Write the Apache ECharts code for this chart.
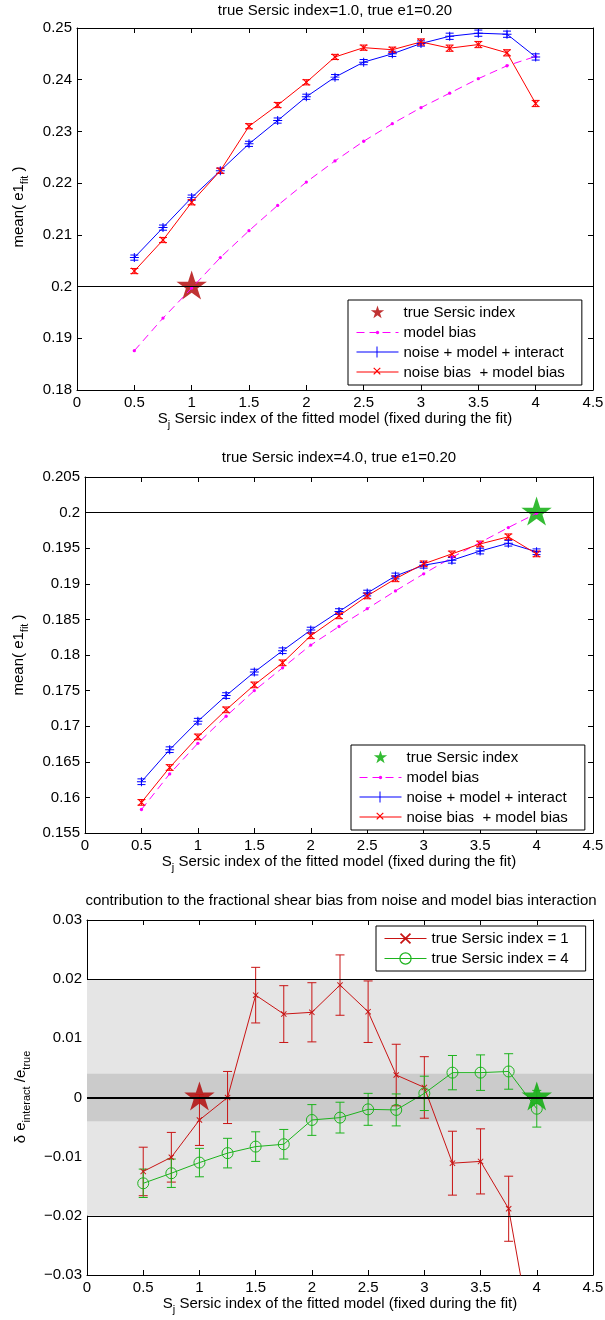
<!DOCTYPE html>
<html><head><meta charset="utf-8">
<script src="https://cdn.jsdelivr.net/npm/echarts@6/dist/echarts.min.js"></script>
<style>html,body{margin:0;padding:0;background:#fff}#c{width:605px;height:1320px}</style>
</head><body><div id="c"></div>
<script>
// ---------- data ----------
var sersicX = [0.5, 0.75, 1, 1.25, 1.5, 1.75, 2, 2.25, 2.5, 2.75, 3, 3.25, 3.5, 3.75, 4];

// panel 1 : true Sersic index 1.0
var p1Title = 'true Sersic index=1.0, true e1=0.20';
var p1Model = [0.1876, 0.1939, 0.1997, 0.2056, 0.2108, 0.2157, 0.2202, 0.2243, 0.2281, 0.2315, 0.2346, 0.2374, 0.2402, 0.2427, 0.2445];
var p1Blue  = [0.2056, 0.2114, 0.2172, 0.2224, 0.2276, 0.2321, 0.2367, 0.2405, 0.2434, 0.2450, 0.2470, 0.2484, 0.2490, 0.2488, 0.2444];
var p1BlueErr = [0.0005, 0.0005, 0.0005, 0.0005, 0.0005, 0.0005, 0.0005, 0.0005, 0.0005, 0.0005, 0.0005, 0.0006, 0.0006, 0.0006, 0.0006];
var p1Red   = [0.2030, 0.2090, 0.2163, 0.2224, 0.2310, 0.2351, 0.2395, 0.2444, 0.2462, 0.2458, 0.2473, 0.2461, 0.2468, 0.2452, 0.2354];
var p1RedErr = [0.0005, 0.0005, 0.0005, 0.0005, 0.0005, 0.0005, 0.0005, 0.0005, 0.0005, 0.0005, 0.0006, 0.0006, 0.0006, 0.0006, 0.0006];
var p1Star = [[1, 0.2]];
var trueE1 = 0.2;

// panel 2 : true Sersic index 4.0
var p2Title = 'true Sersic index=4.0, true e1=0.20';
var p2Model = [0.1583, 0.1633, 0.1676, 0.1714, 0.1750, 0.1782, 0.1814, 0.1840, 0.1865, 0.1890, 0.1914, 0.1937, 0.1958, 0.1979, 0.1999];
var p2Blue  = [0.1622, 0.1667, 0.1707, 0.1743, 0.1776, 0.1806, 0.1835, 0.1861, 0.1887, 0.1911, 0.1926, 0.1933, 0.1946, 0.1957, 0.1945];
var p2BlueErr = [0.0004, 0.0004, 0.0004, 0.0004, 0.0004, 0.0004, 0.0004, 0.0004, 0.0004, 0.0004, 0.0004, 0.0004, 0.0004, 0.0004, 0.0004];
var p2Red   = [0.1593, 0.1642, 0.1685, 0.1723, 0.1758, 0.1789, 0.1827, 0.1855, 0.1883, 0.1907, 0.1928, 0.1942, 0.1956, 0.1966, 0.1942];
var p2RedErr = [0.0004, 0.0004, 0.0004, 0.0004, 0.0004, 0.0004, 0.0004, 0.0004, 0.0004, 0.0004, 0.0004, 0.0004, 0.0004, 0.0004, 0.0004];
var p2Star = [[4, 0.2]];

// panel 3 : interaction term
var p3Title = 'contribution to the fractional shear bias from noise and model bias interaction';
var p3Red   = [-0.0125, -0.0101, -0.0038, 0.0000, 0.0173, 0.0141, 0.0144, 0.0190, 0.0145, 0.0038, 0.0017, -0.0111, -0.0108, -0.0188, -0.0455];
var p3RedErr = [0.0041, 0.0042, 0.0043, 0.0044, 0.0047, 0.0048, 0.0050, 0.0051, 0.0052, 0.0052, 0.0052, 0.0054, 0.0055, 0.0055, 0.0056];
var p3Green = [-0.0145, -0.0128, -0.0110, -0.0094, -0.0083, -0.0079, -0.0038, -0.0034, -0.0020, -0.0021, 0.0007, 0.0042, 0.0042, 0.0044, -0.0019];
var p3GreenErr = [0.0024, 0.0024, 0.0024, 0.0025, 0.0025, 0.0025, 0.0026, 0.0026, 0.0027, 0.0027, 0.0029, 0.0029, 0.0030, 0.0030, 0.0031];
var p3RedStar = [[1, 0]];
var p3GreenStar = [[4, 0]];
var bandOuter = 0.02;
var bandInner = 0.004;

var legendNames12 = ['true Sersic index', 'model bias', 'noise + model + interact', 'noise bias  + model bias'];
var legendNames3 = ['true Sersic index = 1', 'true Sersic index = 4'];
var xTitle = '{n|S}{s|j}{n| Sersic index of the fitted model (fixed during the fit)}';

// ---------- helpers ----------
var FONT = '"Liberation Sans", Arial, Helvetica, sans-serif';
var PLUS = 'path://M4.45,0H5.55V4.45H10V5.55H5.55V10H4.45V5.55H0V4.45H4.45Z';
var CROSS = 'path://M0,1.1L1.1,0L5,3.9L8.9,0L10,1.1L6.1,5L10,8.9L8.9,10L5,6.1L1.1,10L0,8.9L3.9,5Z';
var DOT = 'path://M0,0M10,10M3.5,5A1.5,1.5,0,1,0,6.5,5A1.5,1.5,0,1,0,3.5,5Z';
// legend icons (line + marker) in a 42x14 box
var PLUS_ICON = 'path://M0,0M42,14M0,6H42V7H0Z' +
  'M20,1H21V6H26V7H21V12H20V7H15V6H20Z';
var CROSS_ICON = 'path://M0,0M42,14M0,6H42V7H0Z' +
  'M16.8,2.7L17.6,1.9L20.5,4.8L23.4,1.9L24.2,2.7L21.3,5.6L24.2,8.5L23.4,9.3L20.5,6.4L17.6,9.3L16.8,8.5L19.7,5.6Z';
var STAR = (function () {
  // five-pointed star (pentagram marker) centred in a symmetric box
  var R = 100, r = 38.2, s = 'path://M-100,-100M100,100';
  for (var k = 0; k < 10; k++) {
    var rad = (k % 2 === 0 ? R : r), a = (-90 + k * 36) * Math.PI / 180;
    s += (k === 0 ? 'M' : 'L') + (rad * Math.cos(a)).toFixed(2) + ',' + (rad * Math.sin(a)).toFixed(2);
  }
  return s + 'Z';
})();

function pts(vals) { return sersicX.map(function (x, i) { return [x, vals[i]]; }); }
function errs(vals, e) { return sersicX.map(function (x, i) { return [x, vals[i] - e[i], vals[i] + e[i]]; }); }
function errRender(capHalf, color) {
  return function (params, api) {
    var x = api.value(0);
    var a = api.coord([x, api.value(1)]), b = api.coord([x, api.value(2)]);
    var st = { stroke: color, lineWidth: 1, fill: null };
    return { type: 'group', children: [
      { type: 'line', shape: { x1: a[0], y1: a[1], x2: b[0], y2: b[1] }, style: st },
      { type: 'line', shape: { x1: a[0] - capHalf, y1: a[1], x2: a[0] + capHalf, y2: a[1] }, style: st },
      { type: 'line', shape: { x1: b[0] - capHalf, y1: b[1], x2: b[0] + capHalf, y2: b[1] }, style: st }
    ] };
  };
}
function negFmt(v) { var s = String(+(+v).toFixed(4)); return s.charAt(0) === '-' ? '\u2212' + s.slice(1) : s; }

var grids = [
  { left: 77, top: 28, width: 516, height: 362 },
  { left: 85, top: 477, width: 508, height: 356 },
  { left: 87, top: 920, width: 506, height: 355 }
];
var yRanges = [[0.18, 0.25, 0.01], [0.155, 0.205, 0.005], [-0.03, 0.03, 0.01]];

var xAxes = [], yAxes = [];
grids.forEach(function (g, k) {
  var lineS = { show: true, onZero: false, lineStyle: { color: '#000', width: 1 } };
  var tickS = { show: true, inside: true, length: 5, lineStyle: { color: '#000', width: 1 } };
  xAxes.push({ type: 'value', gridIndex: k, position: 'bottom', min: 0, max: 4.5, interval: 0.5,
    axisLine: lineS, axisTick: tickS, splitLine: { show: false },
    axisLabel: { show: true, margin: 5, color: '#000', fontSize: 15, fontFamily: FONT } });
  xAxes.push({ type: 'value', gridIndex: k, position: 'top', min: 0, max: 4.5, interval: 0.5,
    axisLine: lineS, axisTick: tickS, splitLine: { show: false }, axisLabel: { show: false } });
  var r = yRanges[k];
  yAxes.push({ type: 'value', gridIndex: k, position: 'left', min: r[0], max: r[1], interval: r[2],
    axisLine: lineS, axisTick: tickS, splitLine: { show: false },
    axisLabel: { show: true, margin: 5, color: '#000', fontSize: 15, fontFamily: FONT, formatter: negFmt } });
  yAxes.push({ type: 'value', gridIndex: k, position: 'right', min: r[0], max: r[1], interval: r[2],
    axisLine: lineS, axisTick: tickS, splitLine: { show: false }, axisLabel: { show: false } });
});

function lineSeries(name, k, vals, color, symbol, size, extra) {
  var s = { type: 'line', name: name, xAxisIndex: 2 * k, yAxisIndex: 2 * k, data: pts(vals),
    symbol: symbol, symbolSize: size, z: 4, clip: true,
    itemStyle: { color: color }, lineStyle: { color: color, width: 1 }, emphasis: { disabled: true } };
  if (extra) for (var key in extra) s[key] = extra[key];
  return s;
}
function errSeries(k, vals, e, color, capHalf) {
  return { type: 'custom', name: 'err' + k, xAxisIndex: 2 * k, yAxisIndex: 2 * k, data: errs(vals, e),
    renderItem: errRender(capHalf, color), itemStyle: { color: color }, encode: { x: 0, y: [1, 2] }, z: 3, clip: true, silent: true };
}
function starSeries(name, k, data, color) {
  return { type: 'scatter', name: name, xAxisIndex: 2 * k, yAxisIndex: 2 * k, data: data,
    symbol: STAR, symbolSize: 32, symbolKeepAspect: true, itemStyle: { color: color }, z: 2, silent: true };
}
var mlBase = { silent: true, symbol: ['none', 'none'], label: { show: false }, emphasis: { disabled: true },
  lineStyle: { color: '#000', width: 1, type: 'solid' } };
function hLine(k, values) {
  var ml = JSON.parse(JSON.stringify(mlBase));
  ml.data = values;
  return { type: 'line', name: 'ref' + k, xAxisIndex: 2 * k, yAxisIndex: 2 * k, data: [], z: 1, markLine: ml };
}

var DASH = [8, 5];
var RED3 = '#c81414', GREEN3 = '#1db31d';
var series = [
  // panel 1
  hLine(0, [{ yAxis: trueE1 }]),
  starSeries(legendNames12[0], 0, p1Star, '#b00000'),
  lineSeries(legendNames12[1], 0, p1Model, '#ff00ff', DOT, 11, { lineStyle: { color: '#ff00ff', width: 1, type: DASH } }),
  errSeries(0, p1Blue, p1BlueErr, '#0000ff', 4),
  lineSeries(legendNames12[2], 0, p1Blue, '#0000ff', PLUS, 9),
  errSeries(0, p1Red, p1RedErr, '#ff0000', 4),
  lineSeries(legendNames12[3], 0, p1Red, '#ff0000', CROSS, 7),
  // panel 2 (same legend names as panel 1; legend colours are given per item)
  hLine(1, [{ yAxis: trueE1 }]),
  starSeries(legendNames12[0], 1, p2Star, '#00aa00'),
  lineSeries(legendNames12[1], 1, p2Model, '#ff00ff', DOT, 11, { lineStyle: { color: '#ff00ff', width: 1, type: DASH } }),
  errSeries(1, p2Blue, p2BlueErr, '#0000ff', 4),
  lineSeries(legendNames12[2], 1, p2Blue, '#0000ff', PLUS, 9),
  errSeries(1, p2Red, p2RedErr, '#ff0000', 4),
  lineSeries(legendNames12[3], 1, p2Red, '#ff0000', CROSS, 7),
  // panel 3
  { type: 'line', name: 'bands', xAxisIndex: 4, yAxisIndex: 4, data: [], z: 1,
    markArea: { silent: true, emphasis: { disabled: true }, label: { show: false }, data: [
      [{ yAxis: -bandOuter, itemStyle: { color: '#e5e5e5' } }, { yAxis: bandOuter }],
      [{ yAxis: -bandInner, itemStyle: { color: '#cbcbcb' } }, { yAxis: bandInner }]
    ] },
    markLine: (function () { var ml = JSON.parse(JSON.stringify(mlBase));
      ml.data = [{ yAxis: -bandOuter }, { yAxis: bandOuter }, { yAxis: -bandInner }, { yAxis: bandInner },
        { yAxis: 0, lineStyle: { color: '#000', width: 2, type: 'solid' } }]; return ml; })()
  },
  starSeries('star n1', 2, p3RedStar, '#b00000'),
  starSeries('star n4', 2, p3GreenStar, '#00aa00'),
  errSeries(2, p3Red, p3RedErr, RED3, 4.5),
  lineSeries(legendNames3[0], 2, p3Red, RED3, CROSS, 6),
  errSeries(2, p3Green, p3GreenErr, GREEN3, 4.5),
  lineSeries(legendNames3[1], 2, p3Green, GREEN3, 'circle', 11,
    { itemStyle: { color: 'rgba(0,0,0,0)', borderColor: GREEN3, borderWidth: 1 } })
];

function li(name, color, type, fill, bw, icon) {
  var o = { name: name,
    lineStyle: { color: color, width: type === 'none' ? 0 : 1, type: type === 'dash' ? DASH : 'solid', opacity: type === 'none' ? 0 : 1 },
    itemStyle: { color: fill || color, borderColor: color, borderWidth: bw || 0 } };
  if (icon) o.icon = icon;
  return o;
}
function legendOpt(left, top, items) {
  return { show: true, orient: 'vertical', left: left, top: top, data: items, z: 100, zlevel: 1,
    itemWidth: 42, itemHeight: 14, itemGap: 5, padding: [5, 17, 5, 8],
    borderColor: '#000', borderWidth: 1, backgroundColor: '#fff', selectedMode: false,
    textStyle: { fontSize: 15, color: '#000', fontFamily: FONT } };
}

var richY = { n: { fontSize: 15, lineHeight: 22, fontFamily: FONT, fill: '#000' },
  s: { fontSize: 11, lineHeight: 11, verticalAlign: 'bottom', fontFamily: FONT, fill: '#000' } };
function gText(x, y, text, rot) {
  return { type: 'text', x: x, y: y, rotation: rot || 0, silent: true,
    style: { text: text, rich: richY, align: 'center', verticalAlign: 'middle', fontSize: 15, fontFamily: FONT, fill: '#000' } };
}

var option = {
  animation: false,
  backgroundColor: '#fff',
  textStyle: { fontFamily: FONT },
  grid: grids.map(function (g) { g.outerBoundsMode = 'none'; g.containLabel = false; return g; }),
  xAxis: xAxes,
  yAxis: yAxes,
  legend: [
    legendOpt(348, 300, [li(legendNames12[0], '#b00000', 'none'), li(legendNames12[1], '#ff00ff', 'dash'),
      li(legendNames12[2], '#0000ff', 'solid', null, 0, PLUS_ICON), li(legendNames12[3], '#ff0000', 'solid', null, 0, CROSS_ICON)]),
    legendOpt(351, 745, [li(legendNames12[0], '#00aa00', 'none'), li(legendNames12[1], '#ff00ff', 'dash'),
      li(legendNames12[2], '#0000ff', 'solid', null, 0, PLUS_ICON), li(legendNames12[3], '#ff0000', 'solid', null, 0, CROSS_ICON)]),
    legendOpt(376, 926, [li(legendNames3[0], RED3, 'solid'),
      li(legendNames3[1], GREEN3, 'solid', 'rgba(0,0,0,0)', 1.2)])
  ],
  graphic: [
    gText(335, 11, '{n|' + p1Title + '}'),
    gText(339, 458, '{n|' + p2Title + '}'),
    gText(341, 901, '{n|' + p3Title + '}'),
    gText(335, 419, xTitle),
    gText(339, 862, xTitle),
    gText(340, 1304, xTitle),
    gText(19, 207, '{n|mean( e1}{s|fit}{n| )}', Math.PI / 2),
    gText(19, 655, '{n|mean( e1}{s|fit}{n| )}', Math.PI / 2),
    gText(21, 1097, '{n|\u03b4 e}{s|interact}{n| /e}{s|true}', Math.PI / 2)
  ],
  series: series
};

var chart = echarts.init(document.getElementById('c'), null, { renderer: 'canvas' });
chart.setOption(option);
</script></body></html>
